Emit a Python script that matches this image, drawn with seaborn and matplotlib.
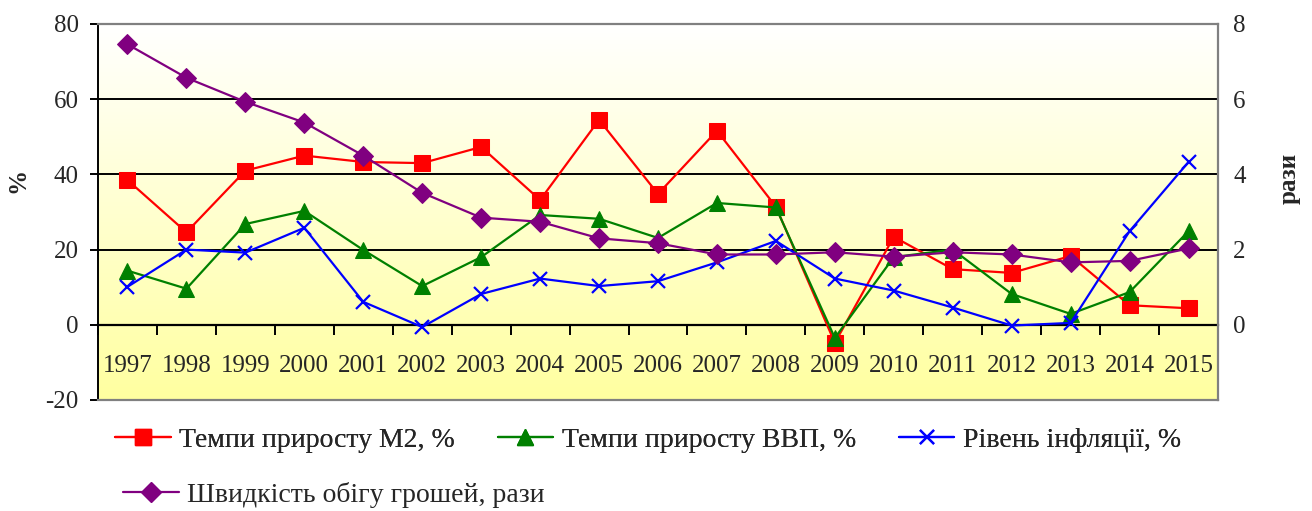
import numpy as np
import pandas as pd
import matplotlib
matplotlib.use("Agg")
import matplotlib.pyplot as plt
import seaborn as sns
from matplotlib.lines import Line2D

sns.set_style("white")
plt.rcParams['font.family'] = ['Liberation Serif', 'DejaVu Serif']
plt.rcParams['axes.unicode_minus'] = False

years = ['1997', '1998', '1999', '2000', '2001', '2002', '2003', '2004', '2005', '2006',
         '2007', '2008', '2009', '2010', '2011', '2012', '2013', '2014', '2015']
m2_growth = [38.5, 24.6, 41.0, 45.0, 43.3, 43.0, 47.3, 33.2, 54.5, 34.8,
             51.6, 31.4, -4.8, 23.4, 14.8, 13.8, 18.3, 5.2, 4.4]
gdp_growth = [14.4, 9.6, 26.8, 30.3, 19.9, 10.3, 18.0, 29.2, 28.2, 23.1,
              32.4, 31.2, -3.5, 18.0, 20.0, 8.2, 2.9, 8.7, 24.9]
inflation = [10.1, 20.0, 19.2, 25.8, 6.1, -0.6, 8.2, 12.3, 10.3, 11.6,
             16.6, 22.3, 12.3, 9.1, 4.6, -0.2, 0.5, 24.9, 43.3]
velocity = [7.46, 6.57, 5.93, 5.38, 4.50, 3.51, 2.85, 2.74, 2.30, 2.17,
            1.87, 1.87, 1.93, 1.81, 1.93, 1.87, 1.66, 1.70, 2.03]

lab_m2 = 'Темпи приросту М2, %'
lab_gdp = 'Темпи приросту ВВП, %'
lab_inf = 'Рівень інфляції, %'
lab_vel = 'Швидкість обігу грошей, рази'

pos = np.arange(len(years))

c_m2, c_gdp, c_inf, c_vel = '#FF0000', '#008000', '#0000FF', '#800080'

fig = plt.figure(figsize=(13.12, 5.11), dpi=100)
ax = fig.add_axes([98/1312, 1-400/511, (1218-98)/1312, (400-24)/511])
ax.patch.set_alpha(0)

# gradient background
grad = np.linspace(0, 1, 256).reshape(-1, 1)
top = np.array([1.0, 1.0, 1.0])
bot = np.array([1.0, 1.0, 160/255])
img = top[None, None, :] * (1 - grad[:, :, None]) + bot[None, None, :] * grad[:, :, None]
ax.imshow(img, extent=[0, 1, 0, 1], transform=ax.transAxes, aspect='auto', zorder=-10)

lw = 1.6
sns.lineplot(x=pos, y=m2_growth, ax=ax, color=c_m2, marker='s', markersize=11,
             markeredgecolor=c_m2, linewidth=lw, zorder=3)
sns.lineplot(x=pos, y=gdp_growth, ax=ax, color=c_gdp, marker='^', markersize=12,
             markeredgecolor=c_gdp, linewidth=lw, zorder=3)
sns.lineplot(x=pos, y=inflation, ax=ax, color=c_inf, marker='x', markersize=10,
             markeredgecolor=c_inf, markeredgewidth=1.6, linewidth=lw, zorder=3)

ax.set_xlim(-0.5, len(years) - 0.5)
ax.set_ylim(-20, 80)
ax.set_yticks([-20, 0, 20, 40, 60, 80])
ax.yaxis.grid(True, color='black', linewidth=1.4)
ax.set_axisbelow(True)
ax.tick_params(axis='y', which='major', length=6, width=1.4, color='black',
               labelsize=18, pad=8, left=True)

ax.spines['bottom'].set_position(('data', 0))
ax.spines['bottom'].set_color('black')
ax.spines['bottom'].set_linewidth(1.6)
ax.spines['left'].set_color('black')
ax.spines['left'].set_linewidth(1.4)
ax.spines['top'].set_visible(False)
ax.spines['right'].set_visible(False)

ax.set_xticks(np.arange(-0.5, len(years) + 0.5, 1.0))
ax.set_xticklabels([])
ax.set_xticks(pos, minor=True)
ax.set_xticklabels(years, minor=True)
ax.tick_params(axis='x', which='major', length=7, width=1.4, direction='out',
               color='black', bottom=True)
ax.tick_params(axis='x', which='minor', length=0, labelsize=18, pad=22)

ax.set_ylabel('%', fontsize=18, fontweight='bold')
ax.yaxis.set_label_coords(-0.061, 0.585)
ax.set_xlabel('')

ax2 = ax.twinx()
ax2.patch.set_alpha(0)
sns.lineplot(x=pos, y=velocity, ax=ax2, color=c_vel, marker='D', markersize=10,
             markeredgecolor=c_vel, linewidth=lw, zorder=4)
ax2.set_ylim(-2, 8)
ax2.set_yticks([0, 2, 4, 6, 8])
ax2.tick_params(axis='y', length=0, labelsize=18, pad=11)
ax2.grid(False)
for s in ['top', 'right', 'bottom']:
    ax2.spines[s].set_color('#808080')
    ax2.spines[s].set_linewidth(1.6)
ax2.spines['left'].set_visible(False)
ax2.set_ylabel('рази', fontsize=18, fontweight='bold', rotation=90)
ax2.yaxis.set_label_coords(1.053, 0.59)

h_m2 = Line2D([], [], color=c_m2, marker='s', markersize=11, linewidth=lw)
h_gdp = Line2D([], [], color=c_gdp, marker='^', markersize=12, linewidth=lw)
h_inf = Line2D([], [], color=c_inf, marker='x', markersize=10, markeredgewidth=1.6, linewidth=lw)
h_vel = Line2D([], [], color=c_vel, marker='D', markersize=10, linewidth=lw)

leg_kw = dict(frameon=False, fontsize=20, handlelength=2.0, handletextpad=0.3,
              borderaxespad=0, borderpad=0)
leg1 = fig.legend([h_m2, h_gdp, h_inf], [lab_m2, lab_gdp, lab_inf], ncol=3,
                  loc='center left', bbox_to_anchor=(115/1312, 1-440/511),
                  columnspacing=1.55, **leg_kw)
fig.add_artist(leg1)
fig.legend([h_vel], [lab_vel], loc='center left', bbox_to_anchor=(123/1312, 1-495/511),
           **leg_kw)

fig.savefig('out.png', dpi=100)
